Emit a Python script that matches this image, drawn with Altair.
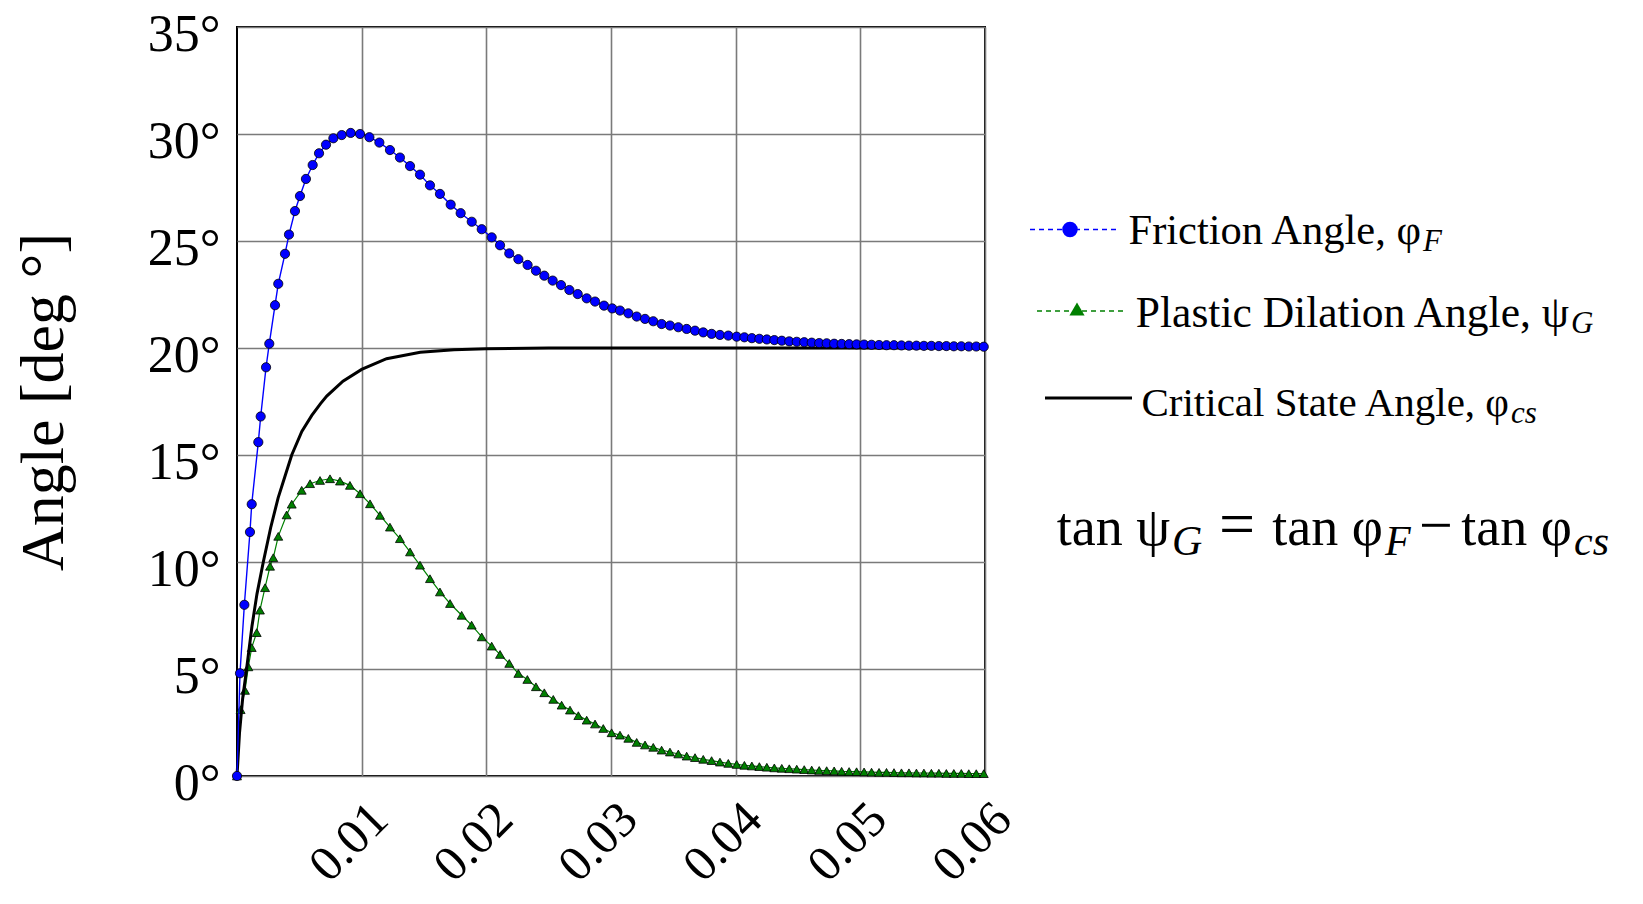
import altair as alt
import pandas as pd

FONT = "Liberation Serif"

# ---- Friction angle phi_F (blue circles) ----
fric_x_head = [
    0.0, 0.00024, 0.00059, 0.00104, 0.00118, 0.00171, 0.0019, 0.00233, 0.00259, 0.00305,
    0.00331, 0.00385, 0.00417, 0.00465, 0.00505, 0.00553, 0.00607, 0.00658, 0.00714, 0.00773,
    0.0084, 0.00912, 0.00987, 0.01062, 0.01142, 0.01227, 0.01307, 0.01388, 0.01468, 0.01548,
    0.01628, 0.01714, 0.01794, 0.01883, 0.01963, 0.02043, 0.0211, 0.02184, 0.02257, 0.02331,
    0.02398, 0.02465, 0.02532, 0.02599, 0.02666, 0.02733, 0.02805, 0.02872, 0.02944, 0.0301,
    0.03072, 0.03139, 0.03206, 0.03273, 0.03339, 0.03406, 0.03473, 0.0354, 0.03607, 0.03674,
    0.0374, 0.03807, 0.03874, 0.03941, 0.04008,
]
fric_y_head = [
    0.0, 4.8, 8.0, 11.4, 12.7, 15.6, 16.8, 19.1, 20.2, 22.0,
    23.0, 24.4, 25.3, 26.4, 27.1, 27.9, 28.55, 29.1, 29.5, 29.8,
    29.95, 30.05, 30.0, 29.85, 29.6, 29.25, 28.9, 28.5, 28.1, 27.6,
    27.2, 26.7, 26.3, 25.9, 25.55, 25.17, 24.8, 24.42, 24.15, 23.88,
    23.61, 23.38, 23.15, 22.94, 22.71, 22.52, 22.32, 22.17, 21.98, 21.85,
    21.75, 21.62, 21.47, 21.36, 21.25, 21.12, 21.05, 20.97, 20.89, 20.81,
    20.73, 20.66, 20.61, 20.58, 20.53,
]

# shared x positions of the dense markers after 0.04
tail_x = [
    0.0407, 0.0413, 0.0419, 0.0425, 0.0431, 0.0437, 0.0443, 0.0449, 0.0455, 0.0461,
    0.0467, 0.0473, 0.0479, 0.0485, 0.0491, 0.0497, 0.0503, 0.0509, 0.0515, 0.0521,
    0.0527, 0.0533, 0.0539, 0.0545, 0.0551, 0.0557, 0.0563, 0.0569, 0.0575, 0.0581,
    0.0587, 0.0593, 0.0599,
]
fric_tail_y = [
    20.50, 20.46, 20.43, 20.40, 20.37, 20.34, 20.31, 20.29, 20.27, 20.25,
    20.23, 20.22, 20.20, 20.19, 20.18, 20.17, 20.16, 20.15, 20.14, 20.13,
    20.13, 20.12, 20.11, 20.11, 20.10, 20.10, 20.09, 20.09, 20.08, 20.08,
    20.07, 20.07, 20.06,
]

# ---- Plastic dilation angle psi_G (green triangles) ----
dil_x_head = [
    0.0, 0.00029, 0.00064, 0.00091, 0.00118, 0.00158, 0.00184, 0.00225, 0.00265, 0.00291,
    0.00331, 0.00398, 0.00439, 0.00519, 0.00586, 0.00666, 0.00746, 0.00826, 0.00906, 0.00987,
    0.01067, 0.01147, 0.01227, 0.01307, 0.01388, 0.01468, 0.01548, 0.01628, 0.01709, 0.01802,
    0.01882, 0.01963, 0.02043, 0.0211, 0.02184, 0.02257, 0.02329, 0.02398, 0.02465, 0.02537,
    0.02604, 0.02671, 0.02738, 0.02805, 0.02872, 0.02938, 0.03005, 0.03072, 0.03139, 0.03206,
    0.03273, 0.03339, 0.03406, 0.03473, 0.0354, 0.03607, 0.03674, 0.0374, 0.03807, 0.03874,
    0.03941, 0.04008,
]
dil_y_head = [
    0.0, 3.1, 4.0, 5.1, 6.0, 6.7, 7.75, 8.8, 9.8, 10.2,
    11.2, 12.2, 12.7, 13.35, 13.66, 13.81, 13.89, 13.78, 13.58, 13.19,
    12.72, 12.18, 11.63, 11.09, 10.47, 9.85, 9.22, 8.6, 8.06, 7.51,
    7.05, 6.5, 6.07, 5.68, 5.26, 4.79, 4.51, 4.17, 3.89, 3.58,
    3.31, 3.08, 2.82, 2.61, 2.43, 2.22, 2.02, 1.91, 1.76, 1.57,
    1.45, 1.34, 1.21, 1.12, 1.03, 0.93, 0.86, 0.78, 0.72, 0.65,
    0.59, 0.54,
]
dil_tail_y = [
    0.50, 0.47, 0.44, 0.41, 0.38, 0.36, 0.34, 0.32, 0.30, 0.28,
    0.26, 0.25, 0.24, 0.22, 0.21, 0.20, 0.19, 0.18, 0.17, 0.17,
    0.16, 0.15, 0.15, 0.14, 0.14, 0.13, 0.13, 0.12, 0.12, 0.12,
    0.11, 0.11, 0.11,
]

# ---- Critical state angle phi_cs (black line) ----
cs_x = [0.0, 0.0002, 0.00045, 0.00077, 0.0012, 0.0016, 0.00211, 0.0027, 0.0033, 0.0039,
        0.00439, 0.0052, 0.006, 0.0067, 0.0072, 0.0085, 0.01, 0.012, 0.0147, 0.0174,
        0.02, 0.025, 0.03, 0.04, 0.05, 0.06]
cs_y = [0.0, 2.0, 3.6, 5.0, 7.0, 8.5, 10.0, 11.6, 13.0, 14.1,
        15.0, 16.1, 16.85, 17.4, 17.75, 18.45, 19.0, 19.5, 19.8, 19.92,
        19.97, 20.0, 20.0, 20.0, 20.0, 20.0]

x_ticks = [0.01, 0.02, 0.03, 0.04, 0.05, 0.06]
y_ticks = [0, 5, 10, 15, 20, 25, 30, 35]

fric = pd.DataFrame({"x": fric_x_head + tail_x, "y": fric_y_head + fric_tail_y})
dil = pd.DataFrame({"x": dil_x_head + tail_x, "y": dil_y_head + dil_tail_y})
cs = pd.DataFrame({"x": cs_x, "y": cs_y})
one = pd.DataFrame({"k": [0]})

GRID = "#7a7a7a"
xs = alt.Scale(domain=[0, 0.06], nice=False, zero=False)
ys = alt.Scale(domain=[0, 35], nice=False)

x_axis = alt.Axis(
    values=x_ticks, labelExpr="format(datum.value, '.2f')", labelAngle=315,
    labelAlign="right", labelBaseline="middle", labelPadding=35, labelOffset=18,
    labelFont=FONT, labelFontSize=50, labelColor="black", labelOverlap=False,
    ticks=False, domain=False, grid=True, gridColor=GRID, gridWidth=1.6, gridOpacity=1,
    title=None,
)
y_axis = alt.Axis(
    values=y_ticks, labelExpr="datum.value + '°'", labelFont=FONT, labelFontSize=52,
    labelColor="black", labelPadding=17, labelOverlap=False, labelOffset=7,
    ticks=False, domain=False, grid=True, gridColor=GRID, gridWidth=1.6, gridOpacity=1,
    title="Angle [deg °]", titleFont=FONT, titleFontSize=62, titleFontWeight="normal",
    titleColor="black", titleX=-175, titleY=374.5, titleBaseline="alphabetic",
    titleAlign="center", titleAngle=270,
)

enc_x = alt.X("x:Q", scale=xs, axis=x_axis)
enc_y = alt.Y("y:Q", scale=ys, axis=y_axis)

dil_line = alt.Chart(dil).mark_line(color="#008000", strokeWidth=1.2).encode(x=enc_x, y=enc_y)
dil_pts = alt.Chart(dil).mark_point(
    shape="triangle-up", filled=True, fill="#008000", stroke="black",
    strokeWidth=0.8, size=80, opacity=1).encode(x=enc_x, y=enc_y)
cs_line = alt.Chart(cs).mark_line(color="black", strokeWidth=3).encode(x=enc_x, y=enc_y)
fric_line = alt.Chart(fric).mark_line(color="#0000ff", strokeWidth=1.4).encode(x=enc_x, y=enc_y)
fric_pts = alt.Chart(fric).mark_point(
    shape="circle", filled=True, fill="#0000ff", stroke="black",
    strokeWidth=0.8, size=85, opacity=1).encode(x=enc_x, y=enc_y)

layers = [dil_line, dil_pts, cs_line, fric_line, fric_pts]


def rule(x1, x2, y, color, width, dash=None):
    kw = dict(color=color, strokeWidth=width)
    if dash:
        kw["strokeDash"] = dash
    return alt.Chart(one).mark_rule(**kw).encode(
        x=alt.value(x1), x2=alt.value(x2), y=alt.value(y))


def sym(x, y, shape, color, size):
    return alt.Chart(one).mark_point(shape=shape, filled=True, color=color,
                                     size=size, opacity=1).encode(
        x=alt.value(x), y=alt.value(y))


def txt(x, y, s, size, align, italic=False):
    kw = dict(font=FONT, fontSize=size, align=align, baseline="alphabetic", color="black")
    if italic:
        kw["fontStyle"] = "italic"
    return alt.Chart(one).mark_text(**kw).encode(
        x=alt.value(x), y=alt.value(y), text=alt.value(s))


SUB = 31
EQ = 54
EQSUB = 42
layers += [
    rule(793, 882, 202.5, "#0000ff", 1.3, [5, 4]),
    sym(833, 202.5, "circle", "#0000ff", 240),
    txt(1184, 217, "Friction Angle, φ", 42.5, "right"),
    txt(1186, 224, "F", SUB, "left", True),

    rule(800, 886, 284, "#008000", 1.3, [5, 4]),
    sym(840, 282, "triangle-up", "#008000", 230),
    txt(1332, 300, "Plastic Dilation Angle, ψ", 43.5, "right"),
    txt(1334, 306, "G", SUB, "left", True),

    rule(808, 895, 371, "black", 3),
    txt(1272, 389, "Critical State Angle, φ", 41, "right"),
    txt(1274, 396, "cs", SUB, "left", True),

    txt(933, 518, "tan ψ", EQ, "right"),
    txt(935, 528, "G", EQSUB, "left", True),
    txt(1000, 518, "=", 64, "center"),
    txt(1146, 518, "tan φ", EQ, "right"),
    txt(1148, 528, "F", EQSUB, "left", True),
    txt(1199, 518, "−", 60, "center"),
    txt(1335, 518, "tan φ", EQ, "right"),
    txt(1337, 528, "cs", EQSUB, "left", True),
]

chart = alt.layer(*layers).properties(
    width=748, height=749,
    autosize=alt.AutoSizeParams(type="none"),
    padding={"left": 229, "top": 19, "right": 645, "bottom": 116},
).configure_view(stroke="black", strokeWidth=2)

chart.save("out.html", embed_options={"renderer": "svg", "actions": False})
